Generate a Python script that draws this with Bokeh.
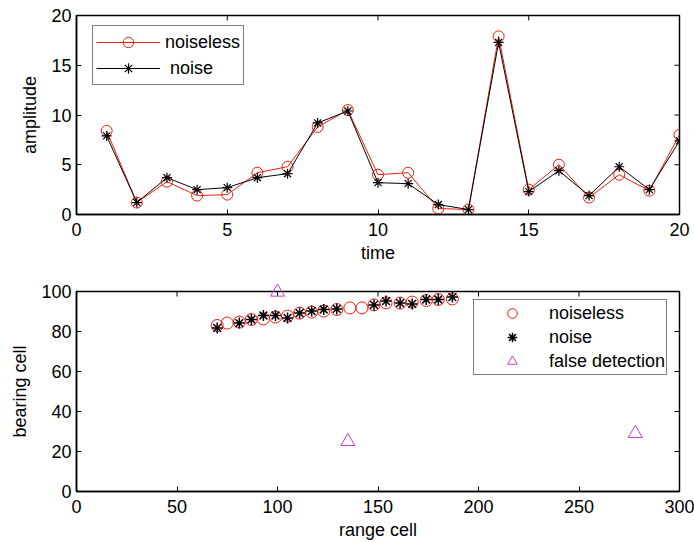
import math
from bokeh.plotting import figure
from bokeh.layouts import column
from bokeh.models import Range1d, Legend, LegendItem, FixedTicker
from bokeh.embed import file_html
from bokeh.resources import INLINE

# ---- top panel data ----
time = [1, 2, 3, 4, 5, 6, 7, 8, 9, 10, 11, 12, 13, 14, 15, 16, 17, 18, 19, 20]
amp_noiseless = [8.4, 1.2, 3.3, 1.9, 2.0, 4.2, 4.8, 8.8, 10.5, 4.0,
                 4.2, 0.6, 0.5, 17.9, 2.5, 5.0, 1.7, 4.0, 2.4, 8.0]
amp_noise = [7.9, 1.2, 3.7, 2.5, 2.7, 3.7, 4.1, 9.2, 10.4, 3.2,
             3.1, 1.0, 0.5, 17.3, 2.3, 4.4, 1.9, 4.8, 2.5, 7.4]
top_xticks = [0, 5, 10, 15, 20]
top_yticks = [0, 5, 10, 15, 20]

# ---- bottom panel data ----
range_noiseless = [70, 75, 81, 87, 93, 99, 105, 111, 117, 123,
                   129.5, 136, 142, 148, 154, 161, 167, 174, 180, 187]
bearing_noiseless = [83, 84.2, 84.7, 86, 86.3, 87.2, 87.7, 89.2, 89.7, 90.2,
                     91, 91.8, 91.8, 93.3, 94.3, 94.2, 94.7, 95.5, 96, 96.3]
range_noise = [70, 81, 87, 93, 99, 105, 111, 117, 123, 129.5,
               148, 154, 161, 167, 174, 180, 187]
bearing_noise = [81.8, 84.2, 86, 88, 88, 86.8, 89.2, 90.2, 91, 91.3,
                 93.3, 95.2, 94.2, 93.8, 96, 96, 97.2]
range_false = [100, 135, 278]
bearing_false = [99.7, 25, 29]
bot_xticks = [0, 50, 100, 150, 200, 250, 300]
bot_yticks = [0, 20, 40, 60, 80, 100]

FONT = "Liberation Sans"
FS = "18px"
RED = "#f01c10"
MAG = "#d03cc8"


def style(p, xticks, yticks, xlabel, ylabel):
    p.xaxis.ticker = FixedTicker(ticks=xticks)
    p.yaxis.ticker = FixedTicker(ticks=yticks)
    p.xaxis.axis_label = xlabel
    p.yaxis.axis_label = ylabel
    for ax in [p.xaxis[0], p.yaxis[0]]:
        ax.major_tick_in = 5
        ax.major_tick_out = 0
        ax.minor_tick_in = 0
        ax.minor_tick_out = 0
        ax.axis_line_width = 1.5
        ax.axis_line_color = "black"
        ax.major_tick_line_color = "black"
        ax.major_label_text_font = FONT
        ax.major_label_text_font_size = FS
        ax.major_label_text_color = "black"
        ax.axis_label_text_font = FONT
        ax.axis_label_text_font_size = FS
        ax.axis_label_text_font_style = "normal"
        ax.axis_label_text_color = "black"
    p.xaxis.major_label_standoff = 8
    p.xaxis.axis_label_standoff = 4
    p.yaxis.major_label_standoff = 5
    p.yaxis.axis_label_standoff = 8
    p.xgrid.visible = False
    p.ygrid.visible = False
    p.outline_line_color = "black"
    p.outline_line_width = 1.5
    # box ticks on the top and right edges (MATLAB "box on")
    xr, yr = p.x_range, p.y_range
    p.scatter(xticks, [yr.end] * len(xticks), marker="dash", size=10,
              angle=math.pi / 2, line_color="black", line_width=1)
    p.scatter([xr.end] * len(yticks), yticks, marker="dash", size=10,
              angle=0, line_color="black", line_width=1)


def style_legend(leg):
    leg.label_text_font = FONT
    leg.label_text_font_size = FS
    leg.label_text_color = "black"
    leg.margin = 0
    leg.border_line_color = "black"
    leg.border_line_width = 1.5
    leg.background_fill_color = "white"
    leg.background_fill_alpha = 1


# ---- top figure ----
p1 = figure(width=694, height=271, output_backend="svg", toolbar_location=None,
            x_range=Range1d(0, 20), y_range=Range1d(0, 20),
            min_border_left=76, min_border_right=15,
            min_border_top=15, min_border_bottom=57)
style(p1, top_xticks, top_yticks, "time", "amplitude")

l1 = p1.line(time, amp_noiseless, line_color=RED, line_width=1)
s1 = p1.scatter(time, amp_noiseless, marker="circle", size=11,
                fill_color=None, line_color=RED, line_width=1)
l2 = p1.line(time, amp_noise, line_color="black", line_width=1)
s2 = p1.scatter(time, amp_noise, marker="asterisk", size=10,
                line_color="black", line_width=1.2)

leg1 = Legend(items=[LegendItem(label="noiseless", renderers=[l1, s1]),
                     LegendItem(label=" noise", renderers=[l2, s2])],
              location=(16, 129), orientation="vertical")
style_legend(leg1)
leg1.padding = 3
leg1.spacing = 0
leg1.glyph_width = 64
leg1.glyph_height = 26
leg1.label_height = 26
leg1.label_standoff = 5
p1.add_layout(leg1)

# ---- bottom figure ----
p2 = figure(width=694, height=271, output_backend="svg", toolbar_location=None,
            x_range=Range1d(0, 300), y_range=Range1d(0, 100),
            min_border_left=76, min_border_right=15,
            min_border_top=20, min_border_bottom=51)
style(p2, bot_xticks, bot_yticks, "range cell", "bearing cell")

c1 = p2.scatter(range_noiseless, bearing_noiseless, marker="circle", size=12,
                fill_color=None, line_color=RED, line_width=1)
c2 = p2.scatter(range_noise, bearing_noise, marker="asterisk", size=11,
                line_color="black", line_width=1.5)
c3 = p2.scatter(range_false, bearing_false, marker="triangle", size=14,
                fill_color=None, line_color=MAG, line_width=1, level="overlay")

leg2 = Legend(items=[LegendItem(label="noiseless", renderers=[c1]),
                     LegendItem(label="noise", renderers=[c2]),
                     LegendItem(label="false detection", renderers=[c3])],
              location=(397, 116), orientation="vertical")
style_legend(leg2)
leg2.padding = 1
leg2.spacing = 0
leg2.glyph_width = 74
leg2.glyph_height = 24
leg2.label_height = 24
leg2.label_standoff = 0
p2.add_layout(leg2)

layout = column(p1, p2)
open("out.html", "w").write(file_html(layout, INLINE))
